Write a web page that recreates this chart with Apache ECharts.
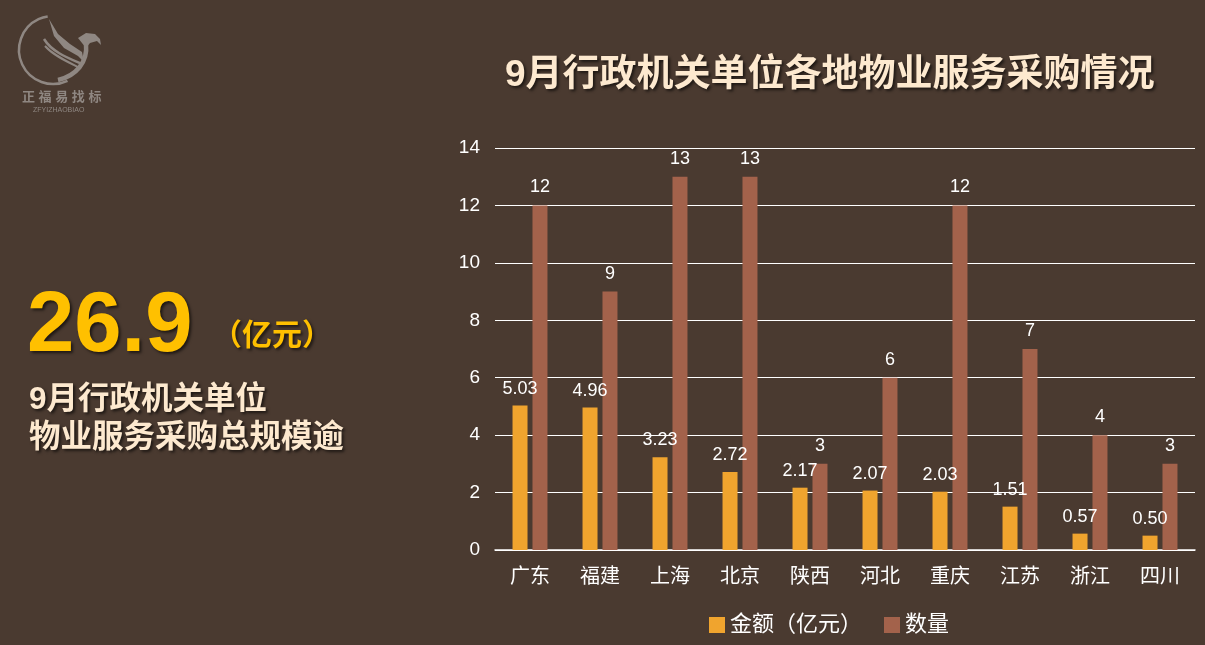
<!DOCTYPE html>
<html>
<head>
<meta charset="utf-8">
<title>9月行政机关单位各地物业服务采购情况</title>
<script src="https://cdn.jsdelivr.net/npm/echarts@6/dist/echarts.min.js"></script>
<style>
  html, body { margin: 0; padding: 0; background: #4a3a30; }
  #main { width: 1205px; height: 645px; }
</style>
</head>
<body>
<div id="main"></div>
<script>
// 数据
var regions = ['广东', '福建', '上海', '北京', '陕西', '河北', '重庆', '江苏', '浙江', '四川'];
var amount = [5.03, 4.96, 3.23, 2.72, 2.17, 2.07, 2.03, 1.51, 0.57, 0.50];   // 金额（亿元）
var count = [12, 9, 13, 13, 3, 6, 12, 7, 4, 3];                                 // 数量
var yTicks = [0, 2, 4, 6, 8, 10, 12, 14];

var cjk = '"Liberation Sans", "Noto Sans CJK SC", sans-serif';
var logoColor = '#8f8782';
var shadow = { textShadowColor: 'rgba(0,0,0,0.6)', textShadowBlur: 3, textShadowOffsetX: 2, textShadowOffsetY: 2 };
var myChart = echarts.init(document.getElementById('main'));

myChart.setOption({
    backgroundColor: '#4a3a30',
    color: ['#f0a42e', '#a3624b'],
    textStyle: { fontFamily: cjk },
    grid: { left: 495, right: 10, top: 148, bottom: 95, containLabel: false },
    legend: {
        left: 704,
        top: 609,
        itemWidth: 16,
        itemHeight: 16,
        itemGap: 22,
        icon: 'rect',
        textStyle: { color: '#ffffff', fontSize: 22, fontFamily: cjk },
        data: ['金额（亿元）', '数量']
    },
    xAxis: {
        type: 'category',
        data: regions,
        axisLine: { lineStyle: { color: '#ffffff', width: 1.5 } },
        axisTick: { show: false },
        axisLabel: { color: '#ffffff', fontSize: 20, margin: 17 }
    },
    yAxis: {
        type: 'value',
        min: yTicks[0],
        max: yTicks[yTicks.length - 1],
        interval: 2,
        axisLine: { show: false },
        axisTick: { show: false },
        axisLabel: { color: '#ffffff', fontSize: 19, margin: 15 },
        splitLine: { lineStyle: { color: '#ffffff', width: 1.2 } }
    },
    series: [
        {
            name: '金额（亿元）',
            type: 'bar',
            barWidth: 15,
            barGap: '33%',
            data: amount,
            label: {
                show: true, position: 'top', distance: 8,
                color: '#ffffff', fontSize: 18,
                formatter: function (p) { return p.value.toFixed(2); }
            }
        },
        {
            name: '数量',
            type: 'bar',
            barWidth: 15,
            data: count,
            label: { show: true, position: 'top', distance: 9, color: '#ffffff', fontSize: 18 }
        }
    ],
    graphic: [
        // 标题
        {
            type: 'text', left: 505, top: 57,
            style: Object.assign({
                text: '9月行政机关单位各地物业服务采购情况',
                fill: '#fde9cf', font: 'bold 37px ' + cjk
            }, shadow)
        },
        // 左侧总规模
        {
            type: 'text', left: 27, top: 285,
            style: Object.assign({
                text: '26.9', fill: '#ffc000', font: 'bold 85px "Liberation Sans", sans-serif'
            }, shadow)
        },
        {
            type: 'text', left: 212, top: 322,
            style: Object.assign({
                text: '（亿元）', fill: '#ffc000', font: 'bold 30px ' + cjk
            }, shadow)
        },
        {
            type: 'text', left: 29, top: 381,
            style: Object.assign({
                text: '9月行政机关单位\n物业服务采购总规模逾', fill: '#fde9cf',
                font: 'bold 31.5px ' + cjk, lineHeight: 38
            }, shadow)
        },
        // 标志
        {
            type: 'arc',
            shape: { cx: 53, cy: 50, r: 34, startAngle: Math.PI * 0.36, endAngle: Math.PI * 1.45, clockwise: true },
            style: { stroke: logoColor, lineWidth: 2.5, fill: null }
        },
        {
            type: 'polygon',
            shape: { points: [[49, 19], [54, 36], [64, 48], [78, 56], [84, 62], [82, 52], [70, 44], [58, 34]] },
            style: { fill: logoColor }
        },
        {
            type: 'bezierCurve',
            shape: { x1: 44, y1: 39, cpx1: 52, cpy1: 52, cpx2: 68, cpy2: 58, x2: 82, y2: 64 },
            style: { stroke: logoColor, lineWidth: 2.5, fill: null }
        },
        {
            type: 'bezierCurve',
            shape: { x1: 45, y1: 46, cpx1: 54, cpy1: 56, cpx2: 68, cpy2: 62, x2: 80, y2: 68 },
            style: { stroke: logoColor, lineWidth: 2, fill: null }
        },
        {
            type: 'bezierCurve',
            shape: { x1: 58, y1: 80, cpx1: 76, cpy1: 76, cpx2: 88, cpy2: 62, x2: 86, y2: 44 },
            style: { stroke: logoColor, lineWidth: 4.5, fill: null }
        },
        {
            type: 'polygon',
            shape: { points: [[78, 38], [86, 33], [95, 34], [100, 39], [101, 45], [97, 41], [90, 43], [86, 48]] },
            style: { fill: logoColor }
        },
        {
            type: 'text', left: 22, top: 91,
            style: { text: '正 福 易 找 标', fill: logoColor, font: 'bold 13px ' + cjk }
        },
        {
            type: 'text', left: 33, top: 107,
            style: { text: 'ZFYIZHAOBIAO', fill: logoColor, font: '7px "Liberation Sans", sans-serif' }
        }
    ]
});
</script>
</body>
</html>
